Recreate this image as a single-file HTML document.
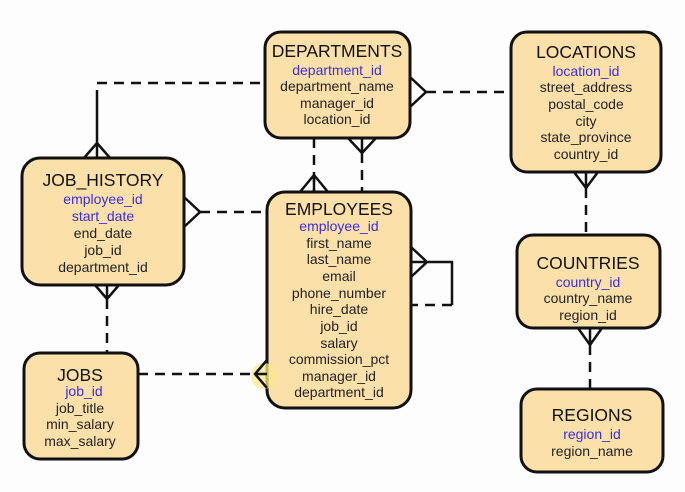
<!DOCTYPE html>
<html><head><meta charset="utf-8"><style>
html,body{margin:0;padding:0;background:#fff;}
svg{display:block;}
text{font-family:"Liberation Sans",Arial,sans-serif;text-anchor:middle;fill:#222;}
.t{font-size:17.5px;fill:#111;}
.f{font-size:14px;}
.k{font-size:14px;fill:#3a2ee0;}
.b{fill:#fbe0aa;stroke:#111;stroke-width:3;}
.s{stroke:#111;stroke-width:2.5;fill:none;}
.d{stroke:#111;stroke-width:2.5;fill:none;stroke-dasharray:10,7;}
</style></head><body>
<svg width="685" height="492" viewBox="0 0 685 492" xmlns="http://www.w3.org/2000/svg">
<rect width="685" height="492" fill="#fdfdfd"/>
<!-- connectors -->
<path class="d" d="M97 83 H262"/>
<path class="s" d="M97 90 V158 M97 143 L84 158 M97 143 L110 158"/>
<path class="s" d="M410 77 L426 92 L410 107"/>
<path class="d" d="M426 92 H510"/>
<path class="d" d="M314 138 V192"/>
<path class="s" d="M314 175 L300 192 M314 175 L328 192 M314 175 V192"/>
<path class="s" d="M348 138 L362 153 L376 138 M362 138 V153"/>
<path class="d" d="M362 153 V192"/>
<path class="s" d="M184 197 L200 212 L184 227"/>
<path class="d" d="M200 212 H267"/>
<path class="s" d="M411 247 L427 262 L411 277 M411 262 H452 V305"/>
<path class="d" d="M452 305 H411"/>
<path class="s" d="M95 285 L107 299 L119 285 M107 285 V299"/>
<path class="d" d="M107 299 V353"/>
<path class="d" d="M138 374 H255"/>
<path class="s" d="M574 172 L586 188 L598 172 M586 172 V188"/>
<path class="d" d="M586 188 V235"/>
<path class="s" d="M578 328 L590 345 L602 328 M590 328 V345"/>
<path class="d" d="M590 345 V389"/>
<!-- boxes -->
<rect class="b" x="265" y="32" width="145" height="106" rx="16"/>
<text class="t" x="337" y="57">DEPARTMENTS</text>
<text class="k" x="337" y="75">department_id</text>
<text class="f" x="337" y="91">department_name</text>
<text class="f" x="337" y="108">manager_id</text>
<text class="f" x="337" y="124">location_id</text>

<rect class="b" x="511" y="32" width="150" height="140" rx="16"/>
<text class="t" x="586" y="58">LOCATIONS</text>
<text class="k" x="586" y="76">location_id</text>
<text class="f" x="586" y="92">street_address</text>
<text class="f" x="586" y="109">postal_code</text>
<text class="f" x="586" y="126">city</text>
<text class="f" x="586" y="142">state_province</text>
<text class="f" x="586" y="159">country_id</text>

<rect class="b" x="22" y="158" width="162" height="127" rx="18"/>
<text class="t" x="103" y="186">JOB_HISTORY</text>
<text class="k" x="103" y="204">employee_id</text>
<text class="k" x="103" y="221">start_date</text>
<text class="f" x="103" y="238">end_date</text>
<text class="f" x="103" y="255">job_id</text>
<text class="f" x="103" y="272">department_id</text>

<rect class="b" x="267" y="192" width="144" height="216" rx="18"/>
<text class="t" x="339" y="215">EMPLOYEES</text>
<text class="k" x="339" y="231">employee_id</text>
<text class="f" x="339" y="248">first_name</text>
<text class="f" x="339" y="264">last_name</text>
<text class="f" x="339" y="281">email</text>
<text class="f" x="339" y="298">phone_number</text>
<text class="f" x="339" y="314">hire_date</text>
<text class="f" x="339" y="331">job_id</text>
<text class="f" x="339" y="348">salary</text>
<text class="f" x="339" y="364">commission_pct</text>
<text class="f" x="339" y="381">manager_id</text>
<text class="f" x="339" y="397">department_id</text>

<rect class="b" x="517" y="235" width="143" height="93" rx="16"/>
<text class="t" x="588" y="269">COUNTRIES</text>
<text class="k" x="588" y="287">country_id</text>
<text class="f" x="588" y="303">country_name</text>
<text class="f" x="588" y="320">region_id</text>

<rect class="b" x="24" y="353" width="114" height="106" rx="16"/>
<text class="t" x="80" y="381">JOBS</text>
<text class="k" x="84" y="396">job_id</text>
<text class="f" x="80" y="413">job_title</text>
<text class="f" x="80" y="429">min_salary</text>
<text class="f" x="80" y="446">max_salary</text>

<rect class="b" x="521" y="389" width="142" height="83" rx="16"/>
<text class="t" x="592" y="421">REGIONS</text>
<text class="k" x="592" y="439">region_id</text>
<text class="f" x="592" y="456">region_name</text>

<circle cx="264" cy="376" r="13" fill="#fbe98a" opacity="0.75"/>
<path class="s" d="M267 360 L255 374 L267 388 M255 374 H267"/>
</svg>
</body></html>
